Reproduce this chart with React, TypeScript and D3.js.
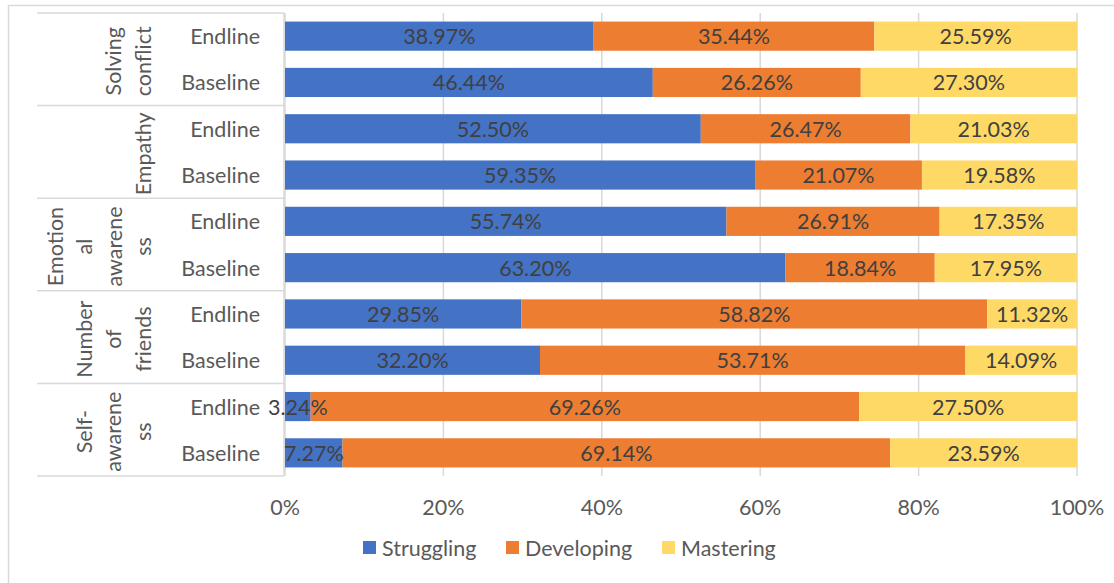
import React from "react";
import * as d3 from "d3";

const groups = ["Solving conflict", "Empathy", "Emotional awareness", "Number of friends", "Self-awareness"];
const groupLines = [
  ["Solving", "conflict"],
  ["Empathy"],
  ["Emotion", "al", "awarene", "ss"],
  ["Number", "of", "friends"],
  ["Self-", "awarene", "ss"],
];
const phases = ["Endline", "Baseline"];
const rows = groups.flatMap((g) => phases.map((p) => `${g}|${p}`));

const struggling = [38.97, 46.44, 52.5, 59.35, 55.74, 63.2, 29.85, 32.2, 3.24, 7.27];
const developing = [35.44, 26.26, 26.47, 21.07, 26.91, 18.84, 58.82, 53.71, 69.26, 69.14];
const mastering = [25.59, 27.3, 21.03, 19.58, 17.35, 17.95, 11.32, 14.09, 27.5, 23.59];

const seriesNames = ["Struggling", "Developing", "Mastering"];
const seriesColors = ["#4472C4", "#ED7D31", "#FFD966"];
const ticks = [0, 20, 40, 60, 80, 100];

const FONT = "Lato, Carlito, Calibri, sans-serif";
const FS = 21.5;

export default function App() {
  const W = 1114, H = 583;
  const top = 13, bottom = 476;
  const x = d3.scaleLinear().domain([0, 100]).range([285, 1077]);
  const y = d3.scaleBand<string>().domain(rows).range([top, bottom]).paddingInner(0.37).paddingOuter(0.185);
  const table = rows.map((r, i) => ({ row: r, Struggling: struggling[i], Developing: developing[i], Mastering: mastering[i] }));
  const stacked = d3.stack<any>().keys(seriesNames)(table);
  const step = y.step();
  const groupH = step * 2;

  return (
    <svg width={W} height={H} style={{ position: "absolute", left: 0, top: 0, background: "#fff" }} fontFamily={FONT}>
      <rect x={8.5} y={5.5} width={1200} height={700} fill="#fff" stroke="#D9D9D9" strokeWidth={1.5} />
      {ticks.map((t) => (
        <line key={t} x1={x(t)} x2={x(t)} y1={top} y2={bottom} stroke="#D9D9D9" strokeWidth={1.5} />
      ))}
      {d3.range(groups.length + 1).map((i) => (
        <line key={i} x1={37} x2={284} y1={top + i * groupH} y2={top + i * groupH} stroke="#D9D9D9" strokeWidth={1.5} />
      ))}
      <line x1={284} x2={284} y1={top} y2={bottom} stroke="#D9D9D9" strokeWidth={1.5} />
      {stacked.map((s, si) => (
        <g key={s.key}>
          {s.map((d, i) => (
            <rect key={i} x={x(d[0])} y={y(rows[i])!} width={x(d[1]) - x(d[0])} height={y.bandwidth()}
              fill={seriesColors[si]} />
          ))}
        </g>
      ))}
      {stacked.map((s) => (
        <g key={s.key + "l"}>
          {s.map((d, i) => (
            <text key={i} x={(x(d[0]) + x(d[1])) / 2} y={y(rows[i])! + y.bandwidth() / 2}
              textAnchor="middle" dominantBaseline="central" fontSize={FS} fill="#404040">
              {(d[1] - d[0]).toFixed(2)}%
            </text>
          ))}
        </g>
      ))}
      {rows.map((r) => (
        <text key={r} x={260} y={y(r)! + y.bandwidth() / 2} textAnchor="end" dominantBaseline="central"
          fontSize={FS} fill="#595959">{r.split("|")[1]}</text>
      ))}
      {groups.map((g, gi) => {
        const cy = top + gi * groupH + groupH / 2 + 2;
        const lines = groupLines[gi];
        return lines.map((ln, li) => {
          const cx = 143 - 29.5 * (lines.length - 1 - li);
          return (
            <text key={g + li} x={cx} y={cy} transform={`rotate(-90,${cx},${cy})`} textAnchor="middle"
              dominantBaseline="central" fontSize={FS} fill="#595959">{ln}</text>
          );
        });
      })}
      {ticks.map((t) => (
        <text key={t} x={x(t)} y={507} textAnchor="middle" dominantBaseline="central" fontSize={FS} fill="#595959">{t}%</text>
      ))}
      {seriesNames.map((n, i) => {
        const lx = [363, 506, 662][i];
        return (
          <g key={n}>
            <rect x={lx} y={541} width={13} height={13} fill={seriesColors[i]} />
            <text x={lx + 19} y={548} dominantBaseline="central" fontSize={FS} fill="#595959">{n}</text>
          </g>
        );
      })}
    </svg>
  );
}
